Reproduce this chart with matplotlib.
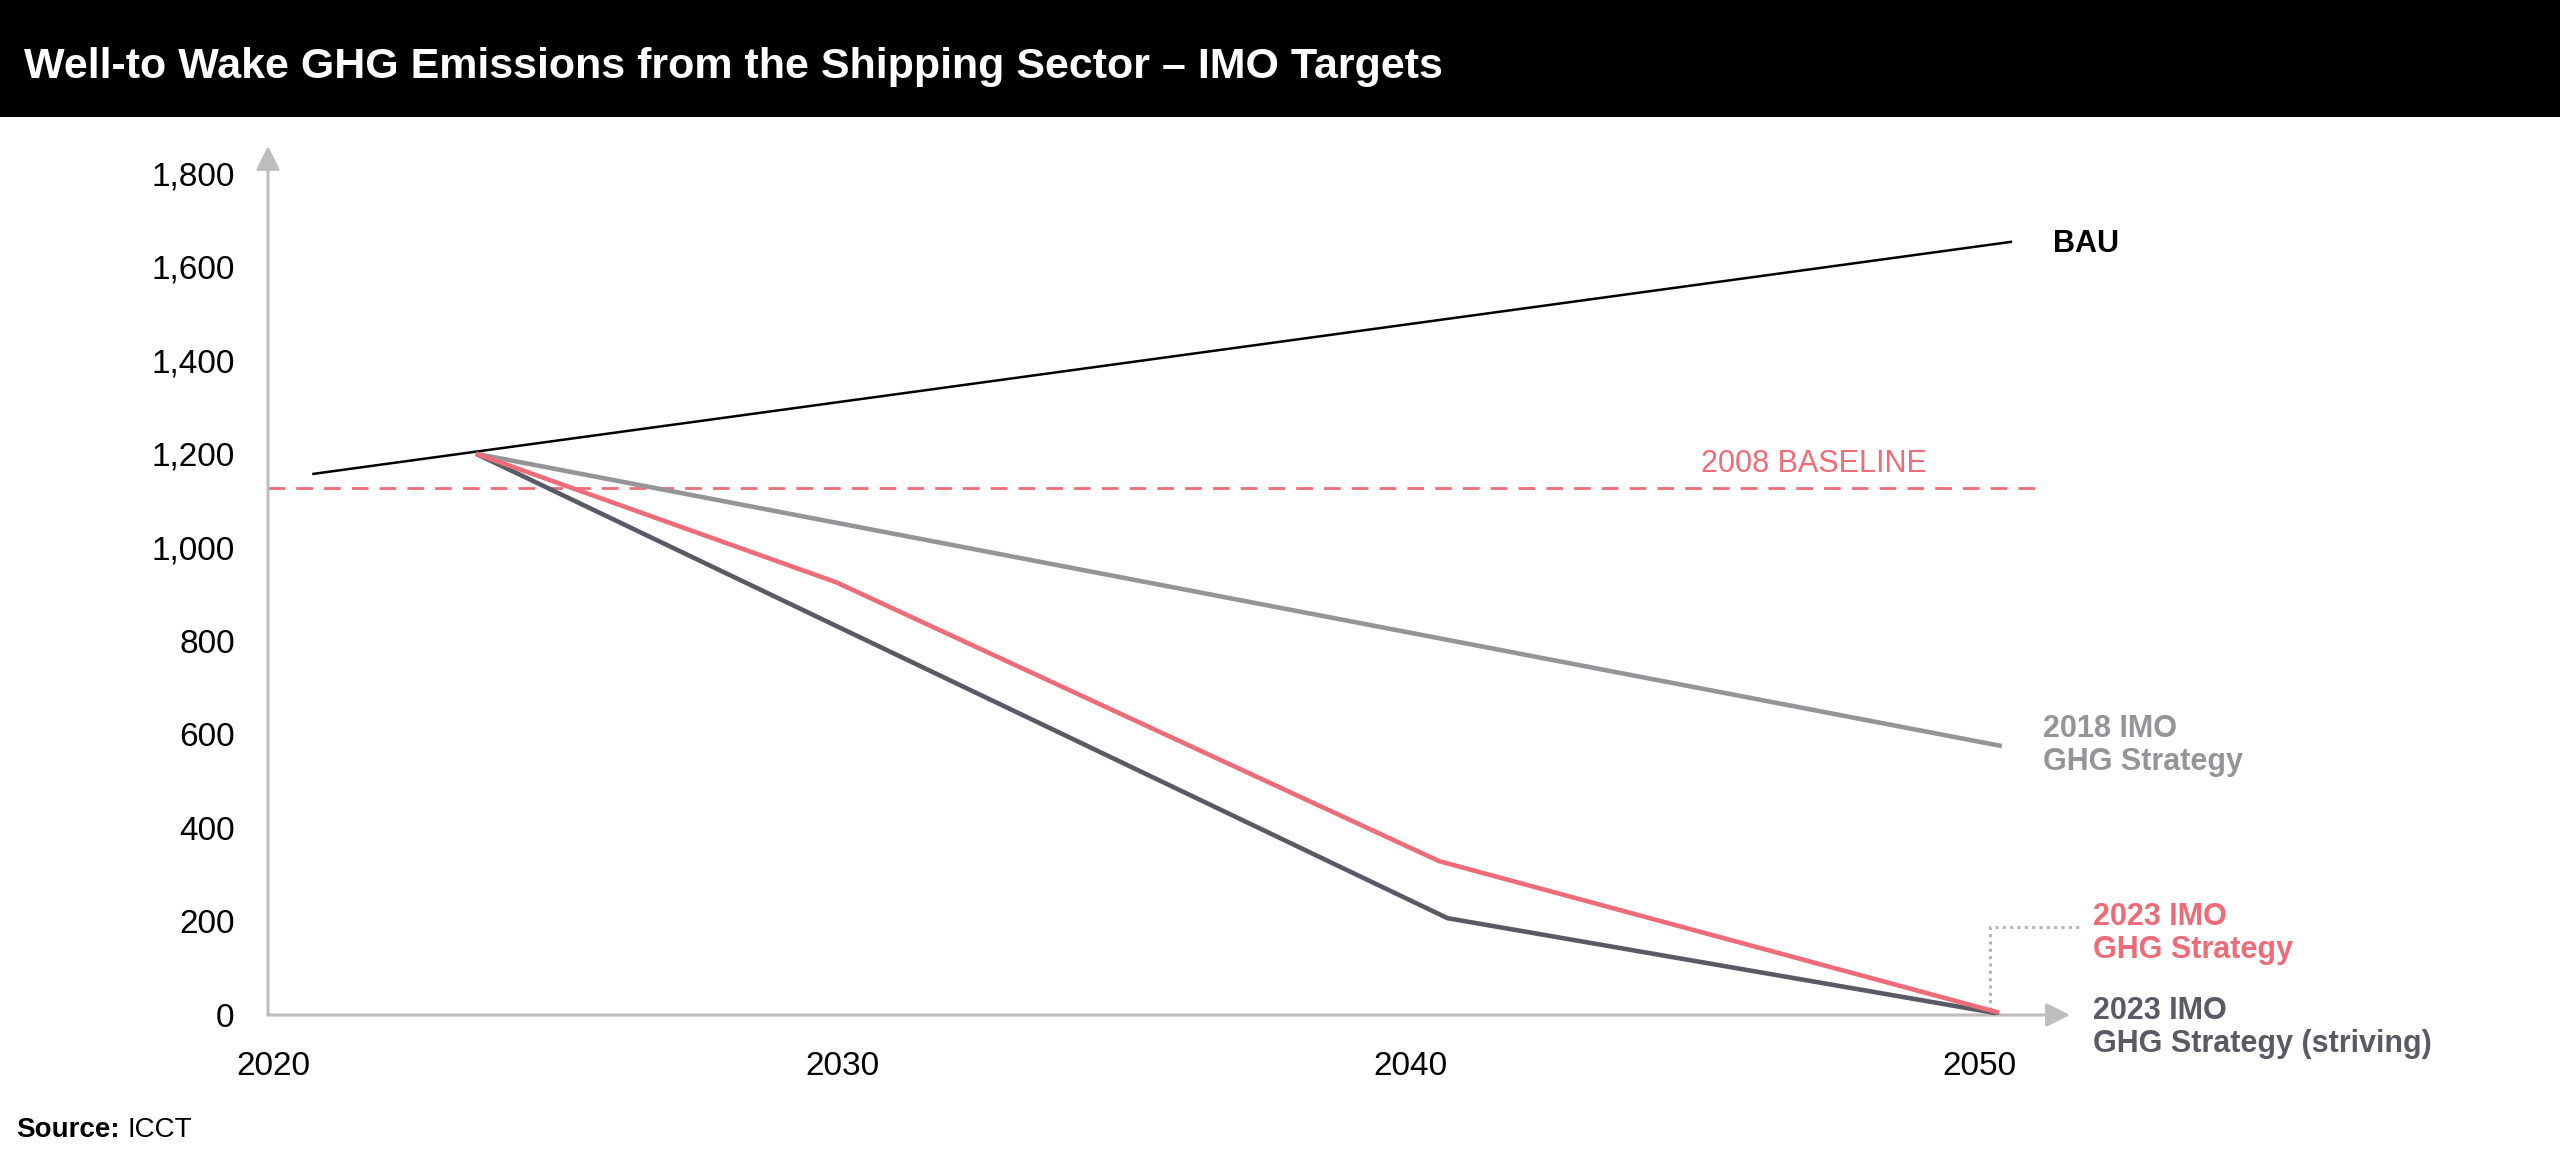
import matplotlib
matplotlib.use("Agg")
import matplotlib.pyplot as plt
from matplotlib.patches import Rectangle
from matplotlib.ticker import FuncFormatter

plt.rcParams['font.family'] = ['Liberation Sans', 'DejaVu Sans']

# data (Mt CO2e, well-to-wake)
bau_years = [2020.7, 2050.56]
bau_values = [1157, 1653]

imo2018_years = [2023.56, 2050.4]
imo2018_values = [1200, 575]

imo2023_years = [2023.56, 2029.9, 2040.5, 2050.35]
imo2023_values = [1200, 925, 329, 5]

striving_years = [2023.56, 2040.65, 2050.35]
striving_values = [1200, 207, 3]

baseline_2008 = 1127

x_ticks = [2020, 2030, 2040, 2050]
y_ticks = [0, 200, 400, 600, 800, 1000, 1200, 1400, 1600, 1800]

title = "Well-to Wake GHG Emissions from the Shipping Sector \u2013 IMO Targets"

BLACK = '#000000'
PINK = '#ee6b78'
GRAY18 = '#959599'
DARK = '#5a5a64'
AXIS = '#bdbdbf'

W, H = 2560, 1169
fig = plt.figure(figsize=(W / 100, H / 100), dpi=100)

# black title bar
fig.patches.append(Rectangle((0, 1 - 117 / H), 1, 117 / H, transform=fig.transFigure,
                             facecolor='black', edgecolor='none', zorder=0))
fig.text(24 / W, 1 - 78 / H, title, color='white', fontsize=31, fontweight='bold',
         va='baseline', ha='left')

ax = fig.add_axes([268 / W, 154 / H, (2070 - 268) / W, (1015 - 146) / H])
ax.set_xlim(2019.9, 2051.6)
ax.set_ylim(0, 1858)
for s in ax.spines.values():
    s.set_visible(False)

# axes with arrow heads
arrow = dict(arrowstyle='-|>', color=AXIS, lw=2.2, shrinkA=0, shrinkB=0, mutation_scale=36)
ax.annotate('', xy=(0, 1), xytext=(0, 0), xycoords='axes fraction', arrowprops=arrow)
ax.annotate('', xy=(1, 0), xytext=(0, 0), xycoords='axes fraction', arrowprops=arrow)

ax.set_xticks(x_ticks)
ax.set_yticks(y_ticks)
ax.yaxis.set_major_formatter(FuncFormatter(lambda v, p: f"{int(v):,}"))
ax.tick_params(length=0, labelsize=24, colors='black')
ax.tick_params(axis='x', pad=26)
ax.tick_params(axis='y', pad=24)

# 2008 baseline
ax.axhline(baseline_2008, xmin=0, xmax=(2051.0 - 2019.9) / (2051.6 - 2019.9),
           color=PINK, lw=2.0, dashes=(6, 4), zorder=2)
ax.text(2047.1, 1178, "2008 BASELINE", color=PINK, fontsize=22, ha='center', va='center')

ax.plot(bau_years, bau_values, color=BLACK, lw=1.8, zorder=3)
ax.plot(imo2018_years, imo2018_values, color=GRAY18, lw=3.3, zorder=3, solid_capstyle='butt')
ax.plot(striving_years, striving_values, color=DARK, lw=3.3, zorder=4, solid_capstyle='butt')
ax.plot(imo2023_years, imo2023_values, color=PINK, lw=3.3, zorder=5, solid_capstyle='butt')

# dotted leader to the 2023 label
ax.plot([2050.2, 2050.2, 2051.75], [10, 188, 188], color='#b5b5b8', lw=2.2,
        linestyle=(0, (1, 1.4)), clip_on=False, zorder=2)

# series labels
ax.text(2051.3, 1648, "BAU", color=BLACK, fontsize=22, fontweight='bold',
        ha='left', va='center', clip_on=False)
ax.text(2051.13, 576, "2018 IMO\nGHG Strategy", color=GRAY18, fontsize=22,
        fontweight='bold', ha='left', va='center', linespacing=1.15, clip_on=False)
ax.text(2052.0, 174, "2023 IMO\nGHG Strategy", color=PINK, fontsize=22,
        fontweight='bold', ha='left', va='center', linespacing=1.15, clip_on=False)
ax.text(2052.0, -27, "2023 IMO\nGHG Strategy (striving)", color=DARK, fontsize=22,
        fontweight='bold', ha='left', va='center', linespacing=1.15, clip_on=False)

# source line
fig.text(16 / W, 1 - 1130 / H, "Source:", fontsize=20, fontweight='bold', va='center', ha='left')
fig.text(128 / W, 1 - 1130 / H, "ICCT", fontsize=20, va='center', ha='left')

fig.savefig('out.png', dpi=100)
